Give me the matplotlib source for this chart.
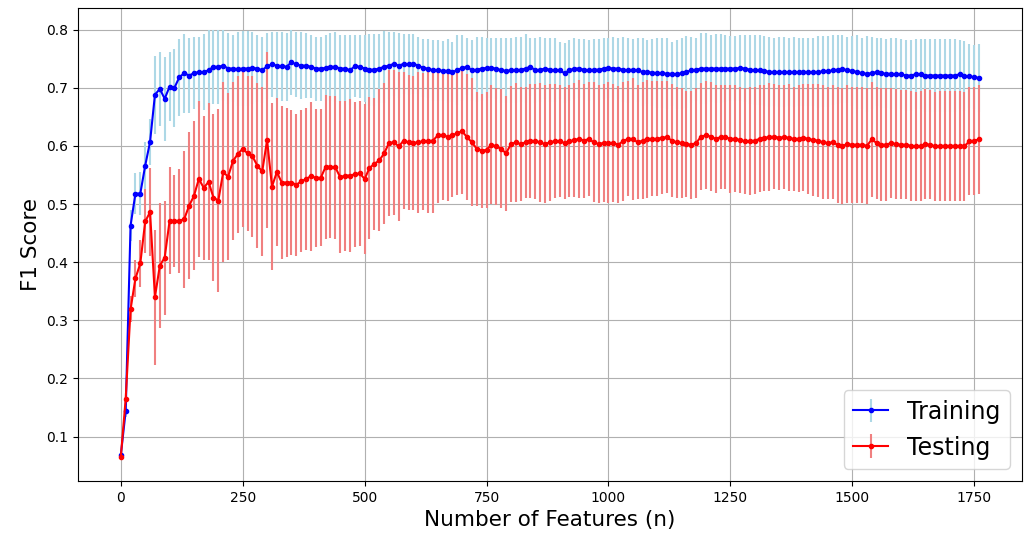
import numpy as np
import matplotlib.pyplot as plt

# number of features evaluated (step 10)
n_features = list(range(0, 1770, 10))

train_mean = [
    0.068, 0.144, 0.463, 0.518, 0.518, 0.566, 0.607, 0.688, 0.698, 0.681,
    0.702, 0.700, 0.718, 0.725, 0.721, 0.725, 0.727, 0.727, 0.730, 0.736,
    0.736, 0.738, 0.733, 0.733, 0.732, 0.733, 0.733, 0.734, 0.733, 0.730,
    0.737, 0.740, 0.738, 0.737, 0.736, 0.744, 0.740, 0.738, 0.738, 0.736,
    0.733, 0.733, 0.734, 0.736, 0.736, 0.733, 0.733, 0.730, 0.737, 0.736,
    0.733, 0.731, 0.731, 0.733, 0.736, 0.738, 0.741, 0.738, 0.741, 0.740,
    0.741, 0.738, 0.734, 0.733, 0.730, 0.730, 0.729, 0.729, 0.727, 0.730,
    0.734, 0.736, 0.730, 0.731, 0.733, 0.734, 0.734, 0.733, 0.730, 0.729,
    0.730, 0.730, 0.731, 0.733, 0.736, 0.730, 0.731, 0.733, 0.731, 0.730,
    0.730, 0.725, 0.730, 0.733, 0.733, 0.731, 0.730, 0.731, 0.731, 0.733,
    0.734, 0.733, 0.733, 0.731, 0.730, 0.731, 0.730, 0.727, 0.727, 0.726,
    0.725, 0.725, 0.724, 0.724, 0.723, 0.725, 0.727, 0.730, 0.731, 0.733,
    0.733, 0.733, 0.733, 0.733, 0.733, 0.733, 0.733, 0.734, 0.733, 0.731,
    0.730, 0.730, 0.729, 0.727, 0.727, 0.727, 0.727, 0.727, 0.727, 0.727,
    0.727, 0.727, 0.727, 0.727, 0.728, 0.728, 0.730, 0.731, 0.732, 0.730,
    0.729, 0.727, 0.725, 0.724, 0.725, 0.727, 0.725, 0.724, 0.724, 0.723,
    0.723, 0.721, 0.721, 0.723, 0.723, 0.721, 0.721, 0.721, 0.721, 0.721,
    0.721, 0.721, 0.723, 0.720, 0.720, 0.718, 0.717,
]

train_std = [
    0.005, 0.010, 0.027, 0.036, 0.037, 0.040, 0.040, 0.067, 0.064, 0.072,
    0.060, 0.067, 0.066, 0.068, 0.064, 0.062, 0.060, 0.066, 0.069, 0.064,
    0.064, 0.061, 0.061, 0.057, 0.064, 0.065, 0.065, 0.062, 0.057, 0.057,
    0.057, 0.056, 0.058, 0.059, 0.058, 0.056, 0.056, 0.058, 0.056, 0.054,
    0.055, 0.055, 0.056, 0.058, 0.060, 0.057, 0.057, 0.060, 0.053, 0.054,
    0.057, 0.062, 0.062, 0.060, 0.062, 0.058, 0.055, 0.056, 0.052, 0.053,
    0.052, 0.049, 0.050, 0.051, 0.052, 0.052, 0.052, 0.055, 0.052, 0.060,
    0.056, 0.049, 0.052, 0.056, 0.055, 0.052, 0.052, 0.053, 0.056, 0.056,
    0.056, 0.057, 0.056, 0.059, 0.050, 0.056, 0.056, 0.053, 0.055, 0.055,
    0.049, 0.052, 0.052, 0.052, 0.050, 0.052, 0.052, 0.052, 0.052, 0.052,
    0.052, 0.054, 0.053, 0.056, 0.056, 0.052, 0.055, 0.058, 0.055, 0.057,
    0.060, 0.060, 0.061, 0.055, 0.059, 0.061, 0.062, 0.057, 0.054, 0.061,
    0.061, 0.057, 0.060, 0.059, 0.057, 0.056, 0.056, 0.056, 0.057, 0.059,
    0.060, 0.060, 0.060, 0.060, 0.059, 0.060, 0.060, 0.059, 0.060, 0.059,
    0.059, 0.058, 0.059, 0.062, 0.061, 0.061, 0.060, 0.059, 0.058, 0.057,
    0.060, 0.063, 0.061, 0.065, 0.062, 0.059, 0.060, 0.059, 0.061, 0.062,
    0.060, 0.061, 0.061, 0.060, 0.060, 0.062, 0.062, 0.062, 0.062, 0.062,
    0.062, 0.062, 0.059, 0.060, 0.055, 0.055, 0.058,
]

test_mean = [
    0.065, 0.165, 0.319, 0.372, 0.398, 0.470, 0.486, 0.340, 0.394, 0.408,
    0.471, 0.471, 0.471, 0.474, 0.497, 0.514, 0.543, 0.528, 0.538, 0.511,
    0.506, 0.555, 0.547, 0.574, 0.586, 0.595, 0.587, 0.582, 0.566, 0.556,
    0.610, 0.530, 0.555, 0.537, 0.537, 0.537, 0.533, 0.539, 0.543, 0.548,
    0.545, 0.545, 0.564, 0.564, 0.563, 0.546, 0.549, 0.549, 0.551, 0.553,
    0.543, 0.562, 0.569, 0.575, 0.587, 0.605, 0.606, 0.599, 0.609, 0.606,
    0.605, 0.606, 0.608, 0.608, 0.609, 0.618, 0.618, 0.616, 0.618, 0.622,
    0.625, 0.615, 0.606, 0.595, 0.592, 0.593, 0.602, 0.599, 0.595, 0.587,
    0.603, 0.606, 0.603, 0.606, 0.609, 0.608, 0.606, 0.603, 0.606, 0.608,
    0.608, 0.605, 0.608, 0.610, 0.612, 0.609, 0.612, 0.606, 0.603, 0.605,
    0.605, 0.605, 0.602, 0.608, 0.612, 0.612, 0.606, 0.609, 0.612, 0.612,
    0.612, 0.614, 0.615, 0.609, 0.606, 0.605, 0.603, 0.602, 0.605, 0.616,
    0.618, 0.616, 0.612, 0.615, 0.615, 0.612, 0.612, 0.610, 0.608, 0.608,
    0.609, 0.612, 0.614, 0.615, 0.616, 0.614, 0.615, 0.614, 0.612, 0.612,
    0.614, 0.612, 0.610, 0.609, 0.606, 0.605, 0.606, 0.602, 0.600, 0.603,
    0.602, 0.602, 0.602, 0.600, 0.611, 0.605, 0.602, 0.602, 0.605, 0.603,
    0.602, 0.602, 0.600, 0.599, 0.600, 0.603, 0.602, 0.599, 0.600, 0.600,
    0.600, 0.600, 0.600, 0.599, 0.608, 0.609, 0.611,
]

test_std = [
    0.004, 0.010, 0.022, 0.032, 0.040, 0.055, 0.076, 0.116, 0.108, 0.098,
    0.092, 0.079, 0.089, 0.118, 0.126, 0.128, 0.134, 0.124, 0.135, 0.144,
    0.157, 0.154, 0.144, 0.136, 0.135, 0.134, 0.134, 0.138, 0.142, 0.145,
    0.152, 0.144, 0.128, 0.131, 0.128, 0.125, 0.122, 0.122, 0.122, 0.128,
    0.119, 0.118, 0.124, 0.122, 0.123, 0.131, 0.129, 0.132, 0.125, 0.125,
    0.129, 0.122, 0.114, 0.122, 0.121, 0.126, 0.125, 0.128, 0.118, 0.116,
    0.115, 0.121, 0.118, 0.124, 0.124, 0.116, 0.111, 0.111, 0.106, 0.106,
    0.108, 0.108, 0.110, 0.098, 0.098, 0.099, 0.102, 0.101, 0.102, 0.099,
    0.100, 0.102, 0.098, 0.096, 0.098, 0.099, 0.102, 0.101, 0.101, 0.098,
    0.096, 0.096, 0.096, 0.098, 0.101, 0.098, 0.098, 0.103, 0.102, 0.102,
    0.104, 0.102, 0.101, 0.102, 0.099, 0.105, 0.098, 0.100, 0.101, 0.099,
    0.099, 0.097, 0.096, 0.097, 0.095, 0.095, 0.091, 0.093, 0.095, 0.092,
    0.093, 0.093, 0.093, 0.089, 0.089, 0.093, 0.092, 0.091, 0.091, 0.093,
    0.092, 0.092, 0.091, 0.093, 0.091, 0.090, 0.090, 0.092, 0.090, 0.092,
    0.092, 0.095, 0.097, 0.097, 0.098, 0.097, 0.098, 0.100, 0.100, 0.102,
    0.100, 0.100, 0.100, 0.100, 0.099, 0.097, 0.097, 0.097, 0.094, 0.094,
    0.094, 0.094, 0.094, 0.094, 0.094, 0.094, 0.094, 0.094, 0.094, 0.094,
    0.094, 0.094, 0.094, 0.094, 0.093, 0.093, 0.093,
]

fig = plt.figure(figsize=(10.25, 5.39), dpi=100)
ax = fig.add_axes([0.076, 0.108, 0.921, 0.877])

ax.errorbar(n_features, train_mean, yerr=train_std, fmt=".-", color="blue",
            ecolor="lightblue", markersize=6, label="Training")
ax.errorbar(n_features, test_mean, yerr=test_std, fmt=".-", color="red",
            ecolor="lightcoral", markersize=6, label="Testing")

ax.set_xlabel("Number of Features (n)", fontsize=15.5)
ax.set_ylabel("F1 Score", fontsize=15.5)
ax.grid(True)
ax.legend(loc="lower right", fontsize=17, handlelength=1.5)

fig.savefig("out.png", dpi=100)
